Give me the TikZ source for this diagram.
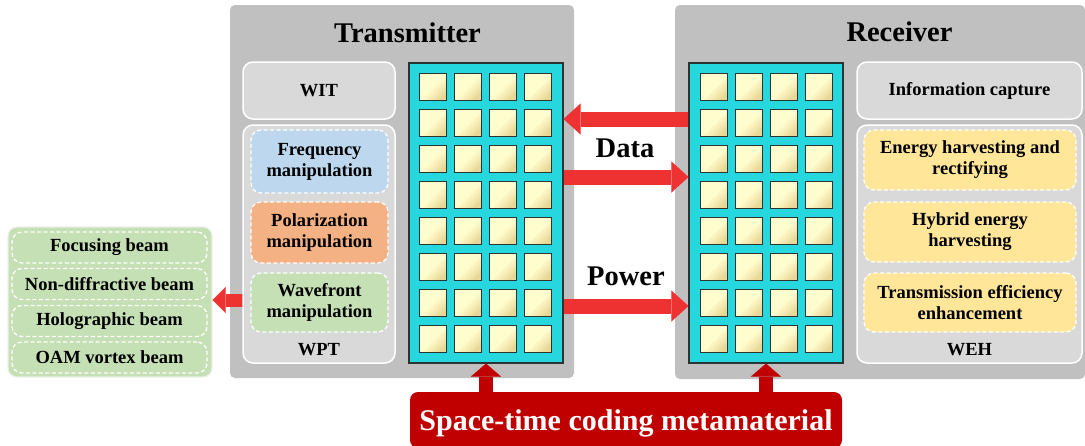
\documentclass[tikz,border=0pt]{standalone}
\usepackage{fontspec}
\setmainfont{Liberation Serif}
\usetikzlibrary{arrows.meta,calc}
\definecolor{panelgray}{RGB}{192,192,192}
\definecolor{boxgray}{RGB}{217,217,217}
\definecolor{cyanarr}{RGB}{38,216,222}
\definecolor{cellborder}{RGB}{45,50,50}
\definecolor{freqblue}{RGB}{189,215,238}
\definecolor{polorange}{RGB}{244,177,131}
\definecolor{wavegreen}{RGB}{197,224,180}
\definecolor{wehyellow}{RGB}{255,230,153}
\definecolor{arrowred}{RGB}{238,50,50}
\definecolor{darkred}{RGB}{192,0,0}
\definecolor{celllight}{RGB}{255,252,205}
\definecolor{celldark}{RGB}{232,215,150}
\begin{document}
\begin{tikzpicture}[x=1pt,y=-1pt,
  panel/.style={fill=panelgray, rounded corners=5pt, inner sep=0pt},
  groupbox/.style={fill=boxgray, draw=white, line width=1.5pt, rounded corners=10pt, inner sep=0pt},
  dbox/.style={draw=white, dash pattern=on 4pt off 2.5pt, line width=1.3pt, rounded corners=10pt, inner sep=0pt, align=center, font=\fontsize{18.5}{21}\selectfont\bfseries},
  txt/.style={font=\fontsize{18.5}{21}\selectfont\bfseries, align=center, inner sep=0pt},
  ttl/.style={font=\fontsize{28.5}{30}\selectfont\bfseries, inner sep=0pt},
  mmarray/.style={fill=cyanarr, draw=cellborder, line width=1.2pt, inner sep=0pt},
  cell/.style={draw=cellborder, line width=1.4pt, top color=celllight, bottom color=celldark, middle color=celllight, shading angle=45, minimum size=27pt, inner sep=0pt},
  fatarrow/.style={draw=arrowred, line width=15pt, -{Triangle[length=17pt,width=31pt,line width=0.01pt]}},
  smallarrow/.style={draw=arrowred, line width=13pt, -{Triangle[length=13pt,width=26pt,line width=0.01pt]}},
  uparrow/.style={draw=darkred, line width=14pt, -{Triangle[length=13pt,width=30pt,line width=0.01pt]}}
]
\useasboundingbox (0,0) rectangle (1085,445);

% panels
\node[panel, minimum width=344pt, minimum height=373pt] (txpanel) at (402,191.5) {};
\node[panel, minimum width=410pt, minimum height=374pt] (rxpanel) at (880,192) {};

% beams group
\node[fill=wavegreen, draw={rgb,255:red,236;green,240;blue,232}, line width=1.2pt, rounded corners=9pt, minimum width=204pt, minimum height=150pt, inner sep=0pt] (beams) at (110,302) {};
\node[dbox, fill=wavegreen, minimum width=195pt, minimum height=31pt] (focus) at (109.5,247.5) {Focusing beam};
\node[dbox, fill=wavegreen, minimum width=195pt, minimum height=31pt] (nondiff) at (109.5,284) {Non-diffractive beam};
\node[dbox, fill=wavegreen, minimum width=195pt, minimum height=31pt] (holo) at (109.5,321) {Holographic beam};
\node[dbox, fill=wavegreen, minimum width=195pt, minimum height=31pt] (oam) at (109.5,357.5) {OAM vortex beam};

% left arrow
\coordinate (yl) at (0,300);
\draw[smallarrow] (txpanel.west |- yl) ++(13,0) -- (beams.east |- yl);

% transmitter boxes
\node[groupbox, minimum width=152pt, minimum height=57pt, txt] (wit) at (319,90.5) {WIT};
\node[groupbox, minimum width=152pt, minimum height=238pt] (wpt) at (319,244) {};
\node[dbox, fill=freqblue, minimum width=137pt, minimum height=63pt] (freq) at (319.5,161.5) {Frequency\\manipulation};
\node[dbox, fill=polorange, minimum width=137pt, minimum height=61pt] (pol) at (319.5,232.5) {Polarization\\manipulation};
\node[dbox, fill=wavegreen, minimum width=137pt, minimum height=59pt] (wave) at (319.5,302.5) {Wavefront\\manipulation};
\node[txt, anchor=base] (wptlbl) at (319,355) {WPT};

% receiver boxes
\node[groupbox, minimum width=225pt, minimum height=57pt, txt] (info) at (969.5,90.5) {Information capture};
\node[groupbox, minimum width=225pt, minimum height=238pt] (weh) at (969.5,244) {};
\node[dbox, fill=wehyellow, minimum width=212pt, minimum height=60pt] (energy) at (970,160) {Energy harvesting and\\rectifying};
\node[dbox, fill=wehyellow, minimum width=212pt, minimum height=60pt] (hybrid) at (970,232) {Hybrid energy\\harvesting};
\node[dbox, fill=wehyellow, minimum width=212pt, minimum height=59pt] (trans) at (970,302.5) {Transmission efficiency\\enhancement};
\node[txt, anchor=base] (wehlbl) at (969.5,355) {WEH};

% metasurface arrays
\node[mmarray, minimum width=154pt, minimum height=300pt] (txarr) at (486,213) {};
\node[mmarray, minimum width=154pt, minimum height=300pt] (rxarr) at (766,213) {};
\foreach \i in {0,...,3}{
  \foreach \j in {0,...,7}{
    \node[cell] (tc\i\j) at (433+35*\i, 87+36*\j) {};
    \node[cell] (rc\i\j) at (714+35*\i, 87+36*\j) {};
  }
}

% titles
\node[ttl, anchor=base] (ttx) at (407.5,42) {Transmitter};
\node[ttl, anchor=base] (trx) at (899.5,41) {Receiver};

% data / power arrows
\coordinate (yd1) at (0,119);
\coordinate (yd2) at (0,177);
\coordinate (yp) at (0,306);
\draw[fatarrow] (rxarr.west |- yd1) -- (txarr.east |- yd1);
\draw[fatarrow] (txarr.east |- yd2) -- (rxarr.west |- yd2);
\draw[fatarrow] (txarr.east |- yp) -- (rxarr.west |- yp);
\node[ttl, anchor=base] (tdata) at (625,157) {Data};
\node[ttl, anchor=base] (tpower) at (626,285) {Power};

% space-time coding metamaterial
\node[fill=darkred, rounded corners=8pt, minimum width=432pt, minimum height=56pt, inner sep=0pt] (stcm) at (626,420) {};
\node[font=\fontsize{30}{32}\selectfont\bfseries, text=white, anchor=base, inner sep=0pt] (stcmlbl) at (626,430) {Space-time coding metamaterial};
\draw[uparrow] (stcm.north -| txarr.south) -- (txarr.south);
\draw[uparrow] (stcm.north -| rxarr.south) -- (rxarr.south);
\end{tikzpicture}
\end{document}
